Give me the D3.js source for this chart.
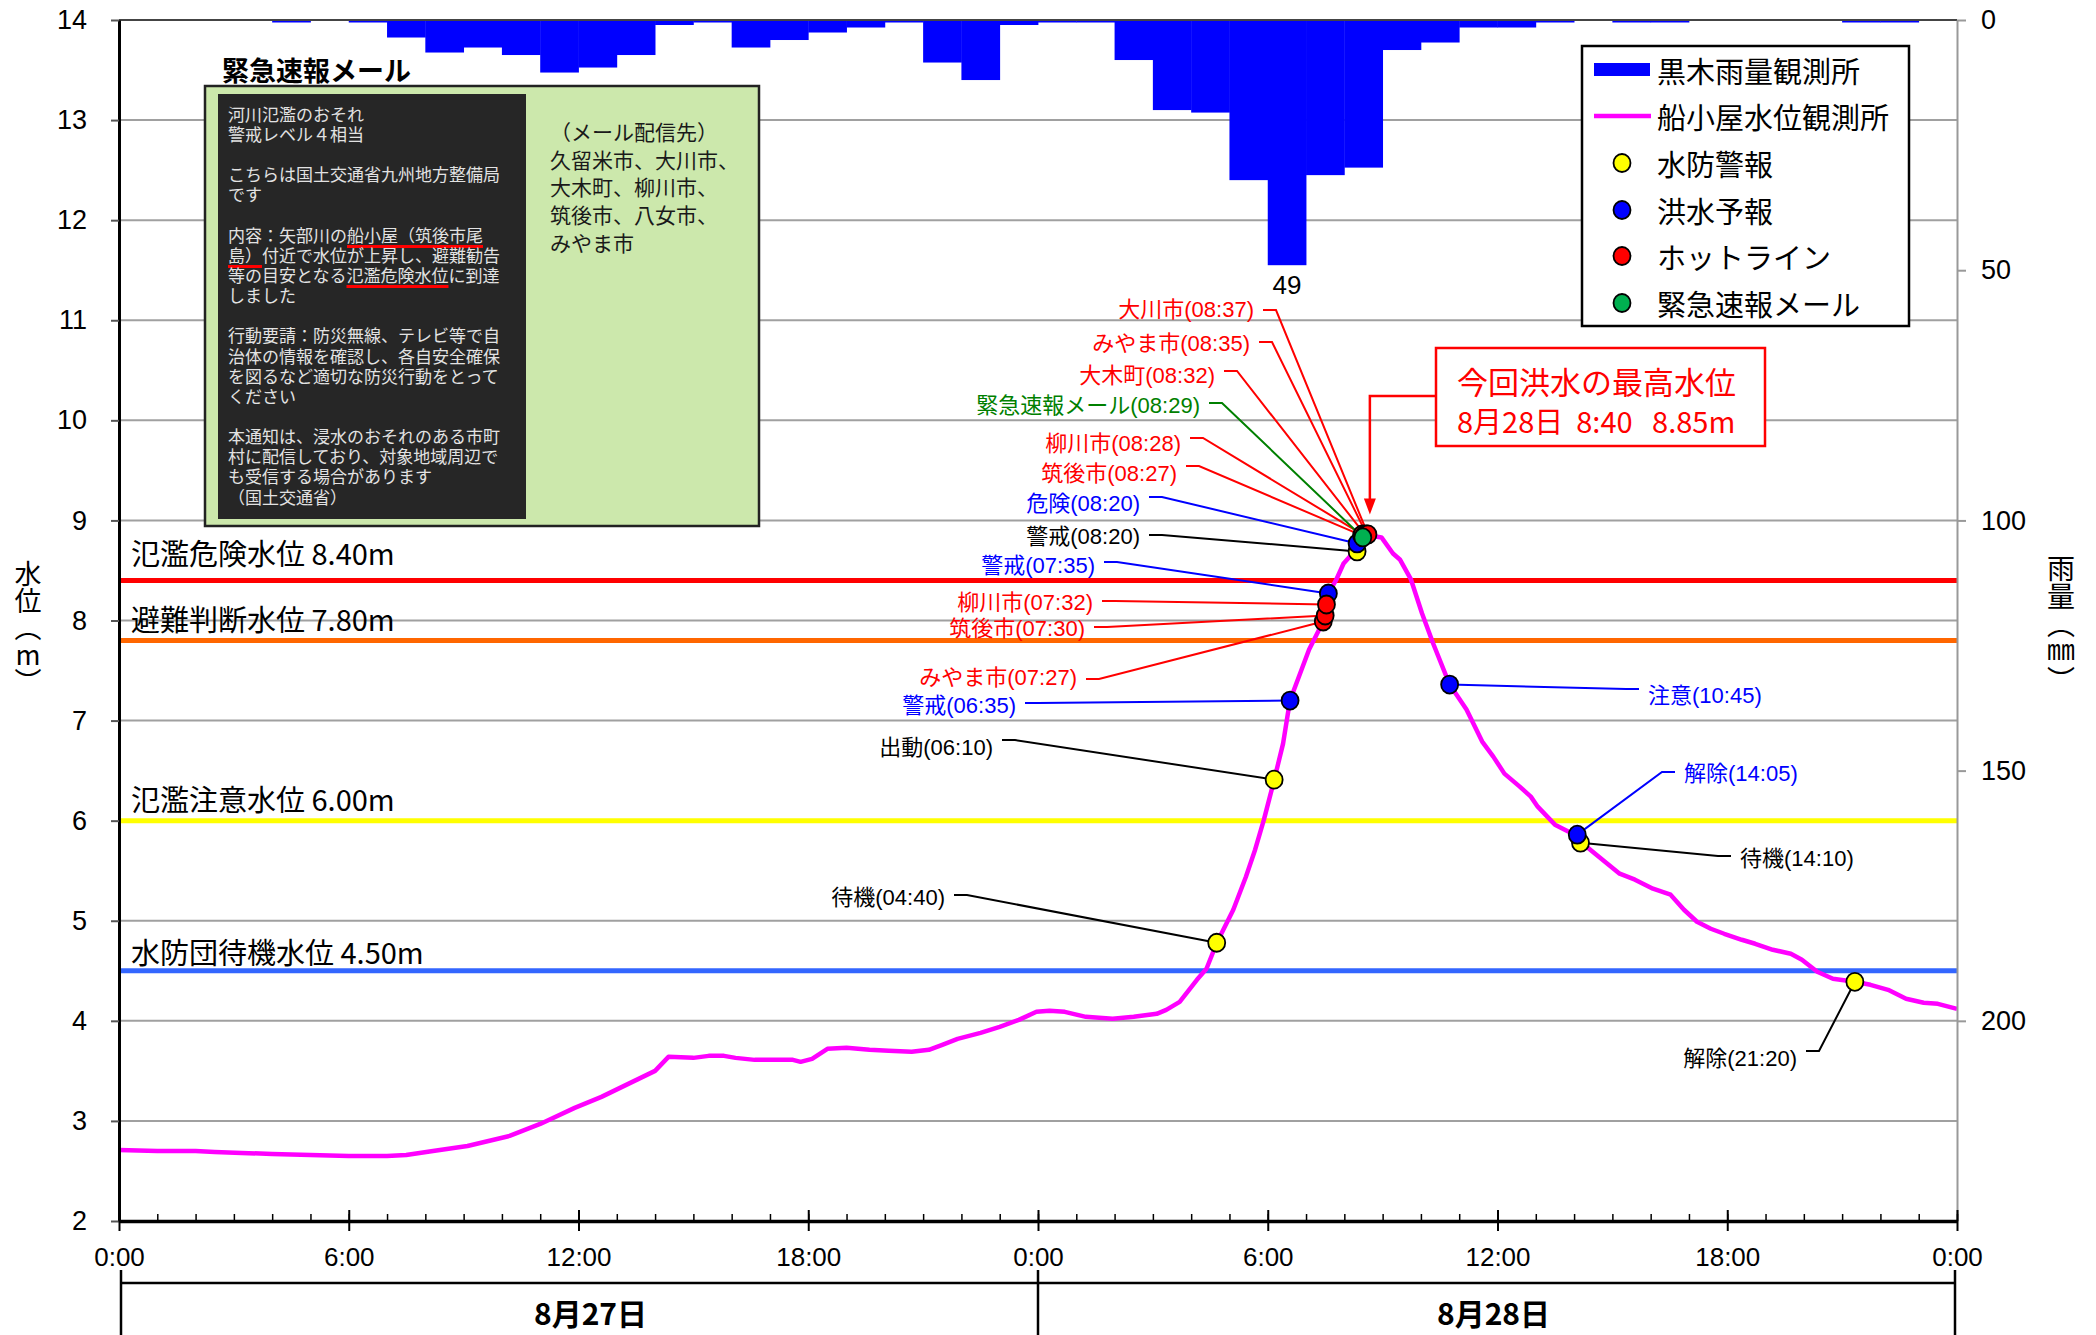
<!DOCTYPE html>
<html><head><meta charset="utf-8">
<script src="https://cdn.jsdelivr.net/npm/d3@7"></script>
<style>
html,body{margin:0;padding:0;background:#fff;}
svg{display:block;}
text{font-family:"Noto Sans CJK JP","Noto Sans",sans-serif;}
text.num{font-family:"Liberation Sans",Arial,sans-serif;}
text.lab{font-family:"Liberation Sans","Noto Sans CJK JP",sans-serif;}
.vert{writing-mode:vertical-rl;text-orientation:upright;}
.fo{font-family:"Liberation Sans","Noto Sans CJK JP",sans-serif;margin:0;padding:0;white-space:nowrap;}
.fo div{margin:0;padding:0;}
.ul{text-decoration:underline;text-decoration-color:#ff0000;text-decoration-thickness:2.5px;text-underline-offset:3px;}
</style></head><body>
<svg id="chart" width="2096" height="1335"></svg>
<script>
// ---------------- DATA ----------------
// hourly rainfall (mm) at 黒木, hour index from 8/27 0:00
const rainHours = [0,1,2,3,4,5,6,7,8,9,10,11,12,13,14,15,16,17,18,19,20,21,22,23,
                   24,25,26,27,28,29,30,31,32,33,34,35,36,37,38,39,40,41,42,43,44,45,46,47];
const rainfall  = [0,0,0,0,0.5,0,0.5,3.5,6.5,5.5,7,10.5,9.5,7,1,0.5,5.5,4,2.5,1.5,0.5,8.5,12,1,
                   0.5,0.5,8,18,18.5,32,49,31,29.5,6,4.5,1.5,1.5,0.5,0,0.5,0.5,0,0,0,0,0.5,0.5,0];

// water level (m) at 船小屋, time in hours from 8/27 0:00
const levelTimes  = [0,1,2,2.5,3.2,4,5,6,7,7.5,8.2,9.1,10.2,11.0,11.9,12.6,13.3,14.0,14.35,15.0,15.4,15.8,16.1,16.6,17.6,17.8,18.1,18.5,19.0,19.6,20.1,20.7,21.15,21.5,21.9,22.5,23.0,23.5,23.96,24.3,24.7,25.25,25.95,26.5,27.1,27.35,27.7,28.15,28.4,28.67,29.1,29.43,29.67,29.9,30.17,30.4,30.58,31.08,31.33,31.45,31.5,31.53,31.58,31.78,31.98,32.33,32.5,32.67,32.97,33.27,33.45,33.74,34.03,34.32,34.75,35.19,35.6,35.89,36.18,36.58,36.87,37.05,37.5,37.86,38.08,38.17,38.55,39.19,39.59,40.06,40.52,40.87,41.21,41.57,41.92,42.38,42.73,43.19,43.66,43.95,44.35,44.76,45.33,45.74,46.2,46.67,47.13,47.5,48.0];
const levelValues = [2.71,2.70,2.70,2.69,2.68,2.67,2.66,2.65,2.65,2.66,2.70,2.75,2.85,2.97,3.13,3.24,3.37,3.50,3.64,3.63,3.65,3.65,3.63,3.61,3.61,3.59,3.62,3.72,3.73,3.71,3.70,3.69,3.71,3.76,3.82,3.88,3.94,4.01,4.09,4.10,4.09,4.04,4.02,4.04,4.07,4.11,4.19,4.41,4.52,4.78,5.11,5.44,5.71,6.01,6.41,6.77,7.20,7.71,7.90,7.99,8.05,8.16,8.27,8.40,8.57,8.72,8.83,8.85,8.83,8.67,8.61,8.41,8.07,7.77,7.36,7.11,6.79,6.64,6.47,6.34,6.24,6.14,5.96,5.89,5.85,5.79,5.67,5.47,5.41,5.32,5.26,5.11,4.99,4.92,4.87,4.81,4.77,4.71,4.67,4.61,4.49,4.42,4.39,4.36,4.31,4.22,4.18,4.17,4.12];

// reference water levels
const thresholdLabels = ["氾濫危険水位 8.40m","避難判断水位 7.80m","氾濫注意水位 6.00m","水防団待機水位 4.50m"];
const thresholdValues = [8.40, 7.80, 6.00, 4.50];

// issued information
const markerLabels = ["待機(04:40)","出動(06:10)","警戒(06:35)","みやま市(07:27)","筑後市(07:30)","柳川市(07:32)","警戒(07:35)",
  "警戒(08:20)","危険(08:20)","筑後市(08:27)","柳川市(08:28)","緊急速報メール(08:29)","大木町(08:32)","みやま市(08:35)","大川市(08:37)",
  "注意(10:45)","解除(14:05)","待機(14:10)","解除(21:20)"];
const markerTimes  = [28.667,30.167,30.583,31.45,31.5,31.533,31.583,32.333,32.333,32.45,32.467,32.483,32.533,32.583,32.617,34.75,38.083,38.167,45.333];
const markerValues = [4.78,6.41,7.20,7.99,8.05,8.16,8.27,8.69,8.77,8.85,8.86,8.83,8.86,8.86,8.86,7.36,5.86,5.78,4.39];
const markerTypes  = ["水防警報","水防警報","洪水予報","ホットライン","ホットライン","ホットライン","洪水予報",
  "水防警報","洪水予報","ホットライン","ホットライン","緊急速報メール","ホットライン","ホットライン","ホットライン",
  "洪水予報","洪水予報","水防警報","水防警報"];

// peak
const peakTime = 32.667, peakValue = 8.85;
const peakLines = ["今回洪水の最高水位","8月28日  8:40   8.85m"];

// ticks / categories
const yTicks = [2,3,4,5,6,7,8,9,10,11,12,13,14];
const rainTicks = [0,50,100,150,200];
const xTickHours = [0,6,12,18,24,30,36,42,48];
const xTickLabels = ["0:00","6:00","12:00","18:00","0:00","6:00","12:00","18:00","0:00"];
const hourTicks = [0,1,2,3,4,5,6,7,8,9,10,11,12,13,14,15,16,17,18,19,20,21,22,23,24,25,26,27,28,29,30,31,32,33,34,35,36,37,38,39,40,41,42,43,44,45,46,47,48];
const dayStarts = [0,24,48];
const dayLabels = ["8月27日","8月28日"];
const legendLabels = ["黒木雨量観測所","船小屋水位観測所","水防警報","洪水予報","ホットライン","緊急速報メール"];
const leftTitle = "水位︵m︶";
const rightTitle = "雨量︵㎜︶";

const mailTitle = "緊急速報メール";
const mailLines = ["河川氾濫のおそれ","警戒レベル４相当","","こちらは国土交通省九州地方整備局","です","",
  "内容：矢部川の船小屋（筑後市尾","島）付近で水位が上昇し、避難勧告","等の目安となる氾濫危険水位に到達","しました","",
  "行動要請：防災無線、テレビ等で自","治体の情報を確認し、各自安全確保","を図るなど適切な防災行動をとって","ください","",
  "本通知は、浸水のおそれのある市町","村に配信しており、対象地域周辺で","も受信する場合があります","（国土交通省）"];
const mailUnderlines = [{line:6,text:"船小屋（筑後市尾"},{line:7,text:"島）"},{line:8,text:"氾濫危険水位"}];
const recipientLines = ["（メール配信先）","久留米市、大川市、","大木町、柳川市、","筑後市、八女市、","みやま市"];

// ---------------- LAYOUT / STYLE ----------------
const M = {left:119, right:1957, top:20, bottom:1221};
const thresholdColors = ["#ff0000","#ff6600","#ffff00","#3366ff"];
const thresholdLabelOffset = [-28,-23,-23,-20];
const typeFill = {"水防警報":"#ffff00","洪水予報":"#0000ff","ホットライン":"#ff0000","緊急速報メール":"#00b050"};
const typeText = {"水防警報":"#000000","洪水予報":"#0000ff","ホットライン":"#ff0000","緊急速報メール":"#008000"};
const typeOrder = {"水防警報":0,"洪水予報":1,"ホットライン":2,"緊急速報メール":3};
// annotation placement: [anchor, text x, text y, leader y]
const labelLayout = [
  ["end",945,897,895],["end",993,747,740],["end",1016,705,703],["end",1077,677,679],["end",1085,628,627],
  ["end",1093,602,601],["end",1095,565,562],["end",1140,536,535],["end",1140,503,497],["end",1177,473,466],
  ["end",1181,443,438],["end",1200,405,403],["end",1215,375,371],["end",1250,343,342],["end",1254,309,310],
  ["start",1648,695,689],["start",1684,773,772],["start",1740,858,856],["end",1797,1058,1051]];

const svg = d3.select("#chart");
const x = d3.scaleLinear().domain([0,48]).range([M.left,M.right]);
const y = d3.scaleLinear().domain([2,14]).range([M.bottom,M.top]);
const yR = d3.scaleLinear().domain([0,240]).range([M.top,M.bottom]);

// gridlines
svg.append("g").selectAll("line").data(yTicks.filter(v=>v>2 && v<14)).join("line")
  .attr("x1",M.left).attr("x2",M.right).attr("y1",d=>y(d)).attr("y2",d=>y(d))
  .attr("stroke","#a0a0a0").attr("stroke-width",2);

// rainfall bars
svg.append("g").selectAll("rect").data(rainHours.map((h,i)=>({h, v:rainfall[i]})).filter(d=>d.v>0)).join("rect")
  .attr("x",d=>x(d.h)).attr("width",d=>x(d.h+1)-x(d.h)+0.4)
  .attr("y",yR(0)).attr("height",d=>yR(d.v)-yR(0)).attr("fill","#0000ff");
const maxI = d3.maxIndex(rainfall);
svg.append("text").attr("class","num").attr("x",x(rainHours[maxI]+0.5)).attr("y",yR(rainfall[maxI])+20)
  .attr("text-anchor","middle").attr("dominant-baseline","central").style("font-size","26px").text(rainfall[maxI]);

// top border
svg.append("line").attr("x1",M.left).attr("x2",M.right).attr("y1",y(14)).attr("y2",y(14))
  .attr("stroke","#444").attr("stroke-width",2);

// threshold lines
const gT = svg.append("g");
thresholdValues.forEach((v,i)=>{
  gT.append("line").attr("x1",M.left).attr("x2",M.right).attr("y1",y(v)).attr("y2",y(v))
    .attr("stroke",thresholdColors[i]).attr("stroke-width",5);
  gT.append("text").attr("x",M.left+12).attr("y",y(v)+thresholdLabelOffset[i]).attr("dominant-baseline","central")
    .style("font-size","29px").attr("fill","#000").text(thresholdLabels[i]);
});

// emergency mail box
const gM = svg.append("g");
gM.append("text").attr("x",222).attr("y",69).attr("dominant-baseline","central")
  .style("font-size","27px").style("font-weight","bold").text(mailTitle);
gM.append("rect").attr("x",205).attr("y",86).attr("width",554).attr("height",440)
  .attr("fill","#cce8ac").attr("stroke","#222").attr("stroke-width",2.5);
gM.append("rect").attr("x",218).attr("y",94).attr("width",308).attr("height",425).attr("fill","#262626");
const mailLH = 20.15;
const foMail = gM.append("foreignObject").attr("x",228).attr("y",116-mailLH/2).attr("width",296).attr("height",mailLH*mailLines.length);
const mailDiv = foMail.append("xhtml:div").attr("class","fo")
  .style("font-size","17px").style("line-height",mailLH+"px").style("color","#e2e2e2");
mailLines.forEach((t,i)=>{
  const row = mailDiv.append("xhtml:div").style("height",mailLH+"px");
  const u = mailUnderlines.find(d=>d.line===i);
  if(!u){ row.text(t); return; }
  const s = t.indexOf(u.text);
  const html = (s>0 ? t.slice(0,s) : "") + `<span class="ul">${u.text}</span>` + t.slice(s+u.text.length);
  row.html(html);
});
const recLH = 27.6;
const foRec = gM.append("foreignObject").attr("x",550).attr("y",133-recLH/2).attr("width",205).attr("height",recLH*recipientLines.length);
const recDiv = foRec.append("xhtml:div").attr("class","fo")
  .style("font-size","21px").style("line-height",recLH+"px").style("color","#1a1a1a");
recipientLines.forEach(t=>recDiv.append("xhtml:div").style("height",recLH+"px").text(t));

// water level line
const levelData = levelTimes.map((t,i)=>[t,levelValues[i]]);
svg.append("path").datum(levelData)
  .attr("d",d3.line().x(d=>x(d[0])).y(d=>y(d[1])))
  .attr("fill","none").attr("stroke","#ff00ff").attr("stroke-width",4.5).attr("stroke-linejoin","round");

// markers + annotations
const markers = markerLabels.map((l,i)=>({label:l,t:markerTimes[i],v:markerValues[i],type:markerTypes[i],lay:labelLayout[i]}));
const gLead = svg.append("g"), gDots = svg.append("g"), gLab = svg.append("g");
markers.forEach(m=>{
  const [anchor,tx,ty,sy] = m.lay;
  const mx = x(m.t), my = y(m.v);
  const col = typeText[m.type];
  let s1, s2;
  if(anchor==="end"){ s1 = tx+9; s2 = tx+22; } else { s1 = tx-9; s2 = tx-22; }
  gLead.append("polyline").attr("points",`${s1},${sy} ${s2},${sy} ${mx},${my}`)
    .attr("fill","none").attr("stroke",col).attr("stroke-width",2);
  gLab.append("text").attr("class","lab").attr("x",tx).attr("y",ty).attr("text-anchor",anchor).attr("dominant-baseline","central")
    .style("font-size","22px").attr("fill",col).text(m.label);
});
gDots.selectAll("ellipse").data(markers.slice().sort((a,b)=>typeOrder[a.type]-typeOrder[b.type])).join("ellipse")
  .attr("cx",d=>x(d.t)).attr("cy",d=>y(d.v)).attr("rx",8.5).attr("ry",9)
  .attr("fill",d=>typeFill[d.type]).attr("stroke","#000").attr("stroke-width",1.8);

// peak annotation
const gP = svg.append("g");
const bx = 1436, by = 348, bw = 329, bh = 98;
gP.append("rect").attr("x",bx).attr("y",by).attr("width",bw).attr("height",bh)
  .attr("fill","#fff").attr("stroke","#ff0000").attr("stroke-width",2.5);
gP.append("text").attr("x",bx+21).attr("y",by+32).attr("dominant-baseline","central")
  .style("font-size","31px").attr("fill","#ff0000").text(peakLines[0]);
gP.append("text").attr("x",bx+21).attr("y",by+72).attr("dominant-baseline","central")
  .style("font-size","29px").style("white-space","pre").attr("fill","#ff0000").text(peakLines[1]);
const px = x(peakTime), tipY = y(peakValue)-21;
gP.append("polyline").attr("points",`${bx},${by+48} ${px},${by+48} ${px},${tipY-14}`)
  .attr("fill","none").attr("stroke","#ff0000").attr("stroke-width",2.5);
gP.append("polygon").attr("points",`${px-6},${tipY-16} ${px+6},${tipY-16} ${px},${tipY}`).attr("fill","#ff0000");

// legend
const gLg = svg.append("g");
gLg.append("rect").attr("x",1582).attr("y",46).attr("width",327).attr("height",280)
  .attr("fill","#fff").attr("stroke","#000").attr("stroke-width",2.5);
const legY = [70,116,163,210,256,303];
legendLabels.forEach((l,i)=>{
  const ly = legY[i];
  if(i===0) gLg.append("rect").attr("x",1594).attr("y",ly-7).attr("width",56).attr("height",13).attr("fill","#0000ff");
  else if(i===1) gLg.append("line").attr("x1",1594).attr("x2",1651).attr("y1",ly).attr("y2",ly).attr("stroke","#ff00ff").attr("stroke-width",4.5);
  else gLg.append("ellipse").attr("cx",1622).attr("cy",ly).attr("rx",8.5).attr("ry",9)
        .attr("fill",typeFill[l]).attr("stroke","#000").attr("stroke-width",1.8);
  gLg.append("text").attr("x",1657).attr("y",ly).attr("dominant-baseline","central")
    .style("font-size","29px").attr("fill","#000").text(l);
});

// axes
const gL = svg.append("g").attr("transform",`translate(${M.left},0)`)
  .call(d3.axisLeft(y).tickValues(yTicks).tickSize(8).tickSizeOuter(0).tickPadding(24).tickFormat(d3.format("d")));
gL.select(".domain").attr("stroke","#000").attr("stroke-width",3);
gL.selectAll(".tick line").attr("stroke","#555").attr("stroke-width",2);
gL.selectAll(".tick text").attr("class","num").style("font-size","27px").attr("fill","#000");

const gR = svg.append("g").attr("transform",`translate(${M.right},0)`)
  .call(d3.axisRight(yR).tickValues(rainTicks).tickSize(9).tickSizeOuter(0).tickPadding(15));
gR.select(".domain").attr("stroke","#999").attr("stroke-width",2);
gR.selectAll(".tick line").attr("stroke","#999").attr("stroke-width",2);
gR.selectAll(".tick text").attr("class","num").style("font-size","27px").attr("fill","#000");

const gBm = svg.append("g").attr("transform",`translate(0,${M.bottom})`)
  .call(d3.axisBottom(x).tickValues(hourTicks).tickSize(-7).tickSizeOuter(0).tickFormat(""));
gBm.select(".domain").remove();
gBm.selectAll(".tick line").attr("stroke","#000").attr("stroke-width",1.5);
const gB = svg.append("g").attr("transform",`translate(0,${M.bottom})`)
  .call(d3.axisBottom(x).tickValues(xTickHours).tickSize(10).tickSizeOuter(0).tickPadding(17).tickFormat((d,i)=>xTickLabels[i]));
gB.select(".domain").attr("stroke","#000").attr("stroke-width",3.5);
gB.selectAll(".tick line").attr("y1",-11).attr("stroke","#000").attr("stroke-width",2);
gB.selectAll(".tick text").attr("class","num").style("font-size","26px").attr("fill","#000");

// date band
const gD = svg.append("g");
gD.append("line").attr("x1",x(0)+2).attr("x2",x(48)-2).attr("y1",1283).attr("y2",1283).attr("stroke","#000").attr("stroke-width",2.5);
dayStarts.forEach((d,i)=>{
  const xx = i===0 ? x(d)+2 : (i===dayStarts.length-1 ? x(d)-2 : x(d));
  gD.append("line").attr("x1",xx).attr("x2",xx).attr("y1",1270).attr("y2",1335).attr("stroke","#000").attr("stroke-width",2.5);
});
dayLabels.forEach((l,i)=>{
  gD.append("text").attr("x",x((dayStarts[i]+dayStarts[i+1])/2)+(i===0?12:-4)).attr("y",1312).attr("text-anchor","middle")
    .attr("dominant-baseline","central").style("font-size","30px").style("font-weight","bold").text(l);
});

// axis titles (vertical writing)
svg.append("text").attr("class","vert").attr("x",28).attr("y",560)
  .style("font-size","27px").attr("fill","#000").text(leftTitle);
svg.append("text").attr("class","vert").attr("x",2061).attr("y",554)
  .style("font-size","28px").attr("fill","#000").text(rightTitle);
</script>
</body></html>
